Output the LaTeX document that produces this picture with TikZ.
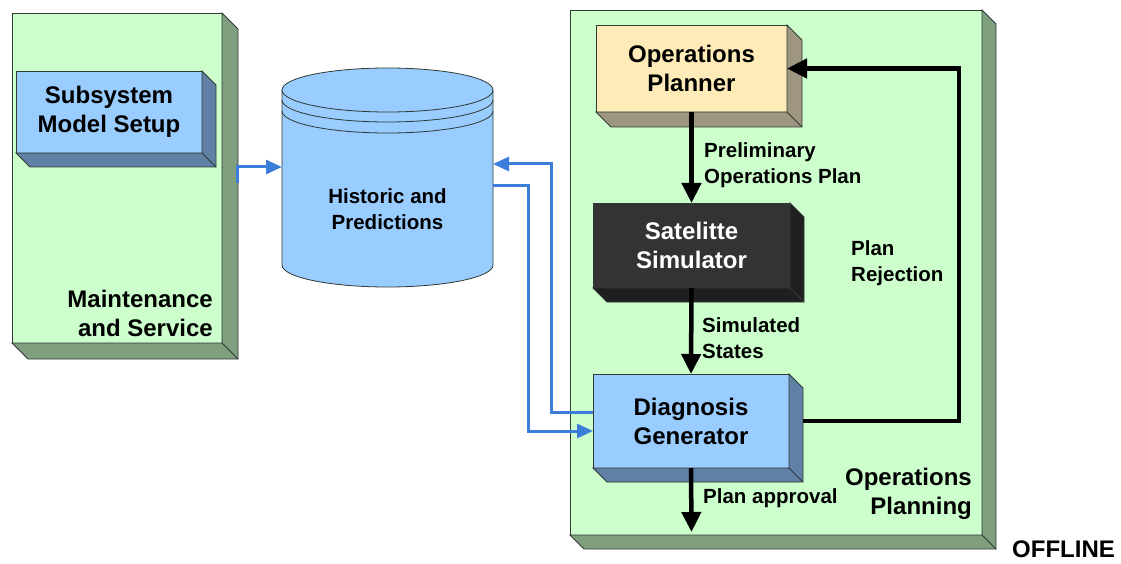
\documentclass[tikz,border=0pt]{standalone}
\usepackage{fontspec}
\setmainfont{Liberation Sans}
\usepackage{tikz}
\usetikzlibrary{arrows.meta,positioning,calc}

\definecolor{panelgreen}{HTML}{CCFFCC}
\definecolor{panelside}{HTML}{7F9F7F}
\definecolor{boxblue}{HTML}{99CCFF}
\definecolor{boxblueside}{HTML}{6080A6}
\definecolor{plannertan}{HTML}{FFEBB8}
\definecolor{plannerside}{HTML}{9E9680}
\definecolor{simdark}{HTML}{333333}
\definecolor{simside}{HTML}{1F1F1F}
\definecolor{linkblue}{HTML}{3B7DD8}
\definecolor{edgegray}{HTML}{2E3A33}

\newcommand{\boxfont}{\fontsize{24}{29}\selectfont\bfseries}
\newcommand{\notefont}{\fontsize{20.5}{26}\selectfont\bfseries}

\begin{document}
\begin{tikzpicture}[x=1pt, y=1pt,
    block/.style={draw=edgegray, line width=0.8pt, inner sep=0pt, outer sep=0pt,
        anchor=north west, align=center, font=\boxfont},
    note/.style={inner sep=0pt, font=\notefont, align=left},
    flow/.style={line width=4.5pt, -{Triangle[length=20pt, width=19pt]}},
    link/.style={line width=3pt, draw=linkblue, -{Triangle[length=16pt, width=14pt]}, linkblue}]
    \useasboundingbox (0,0) rectangle (1121,563);

    % Panels
    \node[block, fill=panelgreen, minimum width=210pt, minimum height=330pt] (maint) at (12,550) {};
    \node[block, fill=panelgreen, minimum width=412pt, minimum height=525pt] (ops) at (570,553) {};

    % Boxes
    \node[block, fill=boxblue, minimum width=186pt, minimum height=82pt] (subsys) at (16,492) {Subsystem\\Model Setup};
    \node[block, fill=plannertan, minimum width=191pt, minimum height=87pt] (planner) at (596,538) {Operations\\Planner};
    \node[block, fill=simdark, text=white, minimum width=197pt, minimum height=85pt] (sat) at (593,360) {Satelitte\\Simulator};
    \node[block, fill=boxblue, minimum width=196pt, minimum height=94pt] (diag) at (593,189) {Diagnosis\\Generator};

    % Extruded sides
    \foreach \n/\c/\d in {maint/panelside/16, ops/panelside/14, subsys/boxblueside/14,
                          planner/plannerside/15, sat/simside/14, diag/boxblueside/14} {
        \filldraw[fill=\c, draw=edgegray, line width=0.8pt] (\n.north east) -- ++(\d,-\d)
            -- ([shift={(\d,-\d)}]\n.south east) -- ([shift={(\d,-\d)}]\n.south west)
            -- (\n.south west) -- (\n.south east) -- cycle;
        \draw[edgegray, line width=0.8pt] (\n.south east) -- ++(\d,-\d);
    }

    % Database
    \filldraw[fill=boxblue, draw=edgegray, line width=0.8pt] (282,473) -- (282,298)
        arc[start angle=180, end angle=360, x radius=105.5, y radius=22] -- (493,473)
        arc[start angle=0, end angle=180, x radius=105.5, y radius=22] -- cycle;
    \foreach \y in {473,463,452}
        \draw[edgegray, line width=0.8pt] (282,\y) arc[start angle=180, end angle=360, x radius=105.5, y radius=22];
    \node[inner sep=0pt, outer sep=0pt, minimum width=211pt] (db) at (387.5,388) {};
    \node[note, align=center] (dbtxt) at (387.5,354) {Historic and\\Predictions};

    % Data links
    \draw[link] ([xshift=15pt,yshift=-5pt]maint.east) |- ([yshift=8pt]db.west);
    \draw[link] ([yshift=9pt]diag.west) -- ++(-42pt,0) |- ([yshift=11pt]db.east);
    \draw[link] ([yshift=-11pt]db.east) -- ++(35pt,0) |- ([yshift=-10pt]diag.west);

    % Planning loop
    \coordinate (approved) at (691.5,31);
    \draw[flow] (planner.south) -- (sat.north);
    \draw[flow] (sat.south) -- (diag.south |- diag.north);
    \draw[flow] (diag.south) -- (approved);
    \draw[flow] ([xshift=14pt]diag.east) -| ([xshift=172pt]planner.east) -- (planner.east);

    % Labels
    \node[note, font=\boxfont, align=right, anchor=east] (maintlbl) at (213,249.5) {Maintenance\\and Service};
    \node[note, font=\boxfont, align=right, anchor=east] (opslbl) at (972,69) {Operations\\Planning};
    \node[note, anchor=west] (prelim) at (704,398) {Preliminary\\Operations Plan};
    \node[note, anchor=west] (simlbl) at (702,225) {Simulated\\States};
    \node[note, anchor=west] (rejlbl) at (851,300) {Plan\\Rejection};
    \node[note, anchor=west] (apprlbl) at (703,65) {Plan approval};
    \node[note, font=\boxfont, anchor=west] (offline) at (1012,14) {OFFLINE};
\end{tikzpicture}
\end{document}
